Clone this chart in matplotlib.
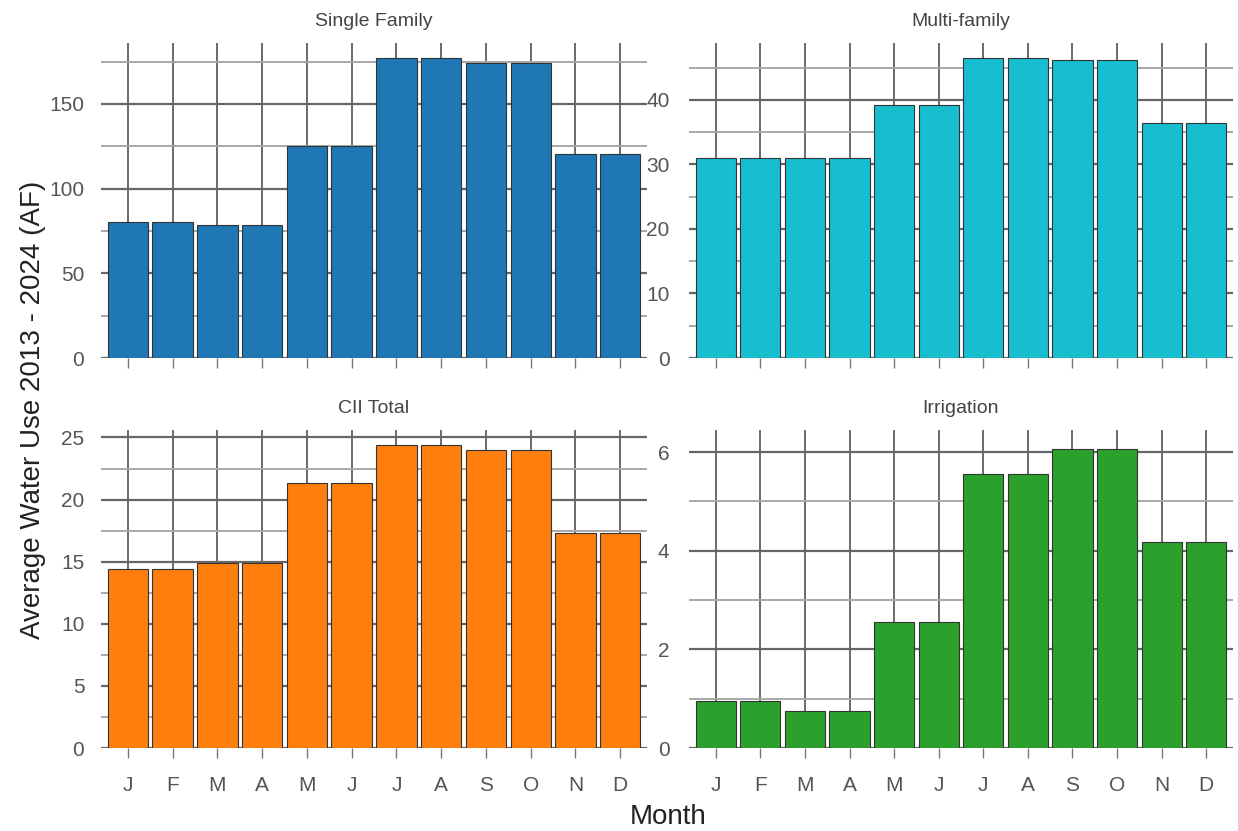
import matplotlib
matplotlib.use("Agg")
import matplotlib.pyplot as plt
from matplotlib.ticker import MultipleLocator

plt.rcParams['font.family'] = ['Liberation Sans', 'DejaVu Sans']

months = ["J", "F", "M", "A", "M", "J", "J", "A", "S", "O", "N", "D"]

single_family = [80.3, 80.3, 78.5, 78.5, 125.0, 125.0, 177.0, 177.0, 174.0, 174.0, 120.5, 120.5]
multi_family = [31.0, 31.0, 31.0, 31.0, 39.2, 39.2, 46.5, 46.5, 46.2, 46.2, 36.4, 36.4]
cii_total = [14.4, 14.4, 14.9, 14.9, 21.3, 21.3, 24.4, 24.4, 24.0, 24.0, 17.3, 17.3]
irrigation = [0.95, 0.95, 0.76, 0.76, 2.55, 2.55, 5.56, 5.56, 6.07, 6.07, 4.18, 4.18]

titles = ["Single Family", "Multi-family", "CII Total", "Irrigation"]
series = [single_family, multi_family, cii_total, irrigation]
colors = ["#1f77b4", "#17becf", "#ff7f0e", "#2ca02c"]
major_steps = [50, 10, 5, 2]
minor_steps = [25, 5, 2.5, 1]
ytops = [186, 48.8, 25.6, 6.45]

W, H = 1238, 831
fig = plt.figure(figsize=(W / 100, H / 100), dpi=100)

# axes boxes in pixels: (left, top, right, bottom)
boxes = [(101, 43, 647, 358), (689, 43, 1233, 358),
         (101, 430, 647, 748), (689, 430, 1233, 748)]

x = list(range(len(months)))
for i, (l, t, r, b) in enumerate(boxes):
    ax = fig.add_axes([l / W, 1 - b / H, (r - l) / W, (b - t) / H])
    ax.set_axisbelow(True)
    ax.bar(x, series[i], width=0.9, color=colors[i], edgecolor="#333333",
           linewidth=0.8, zorder=2)
    ax.set_xlim(-0.6, 11.6)
    ax.set_ylim(0, ytops[i])
    ax.yaxis.set_major_locator(MultipleLocator(major_steps[i]))
    ax.yaxis.set_minor_locator(MultipleLocator(minor_steps[i]))
    ax.set_xticks(x)
    if i >= 2:
        ax.set_xticklabels(months)
    else:
        ax.set_xticklabels([])
    ax.grid(True, which="major", axis="y", color="#666666", linewidth=1.6)
    ax.grid(True, which="minor", axis="y", color="#a8a8a8", linewidth=1.4)
    ax.grid(True, which="major", axis="x", color="#6a6a6a", linewidth=1.4)
    for s in ax.spines.values():
        s.set_visible(False)
    ax.tick_params(axis="x", which="major", length=7, width=1.0, color="#777777",
                   labelsize=15, labelcolor="#555555", pad=13)
    ax.tick_params(axis="y", which="major", length=0, labelsize=15,
                   labelcolor="#555555", pad=14 if i in (1, 3) else 12)
    ax.tick_params(axis="y", which="minor", length=0)
    ax.set_title(titles[i], fontsize=14, color="#444444", pad=12)

fig.text(0.54, 1 - 817 / H, "Month", ha="center", va="center", fontsize=20, color="#222222")
fig.text(0.027, 1 - 410 / H, "Average Water Use 2013 - 2024 (AF)", rotation=90,
         ha="center", va="center", fontsize=20, color="#222222")

fig.savefig("out.png", dpi=100)
